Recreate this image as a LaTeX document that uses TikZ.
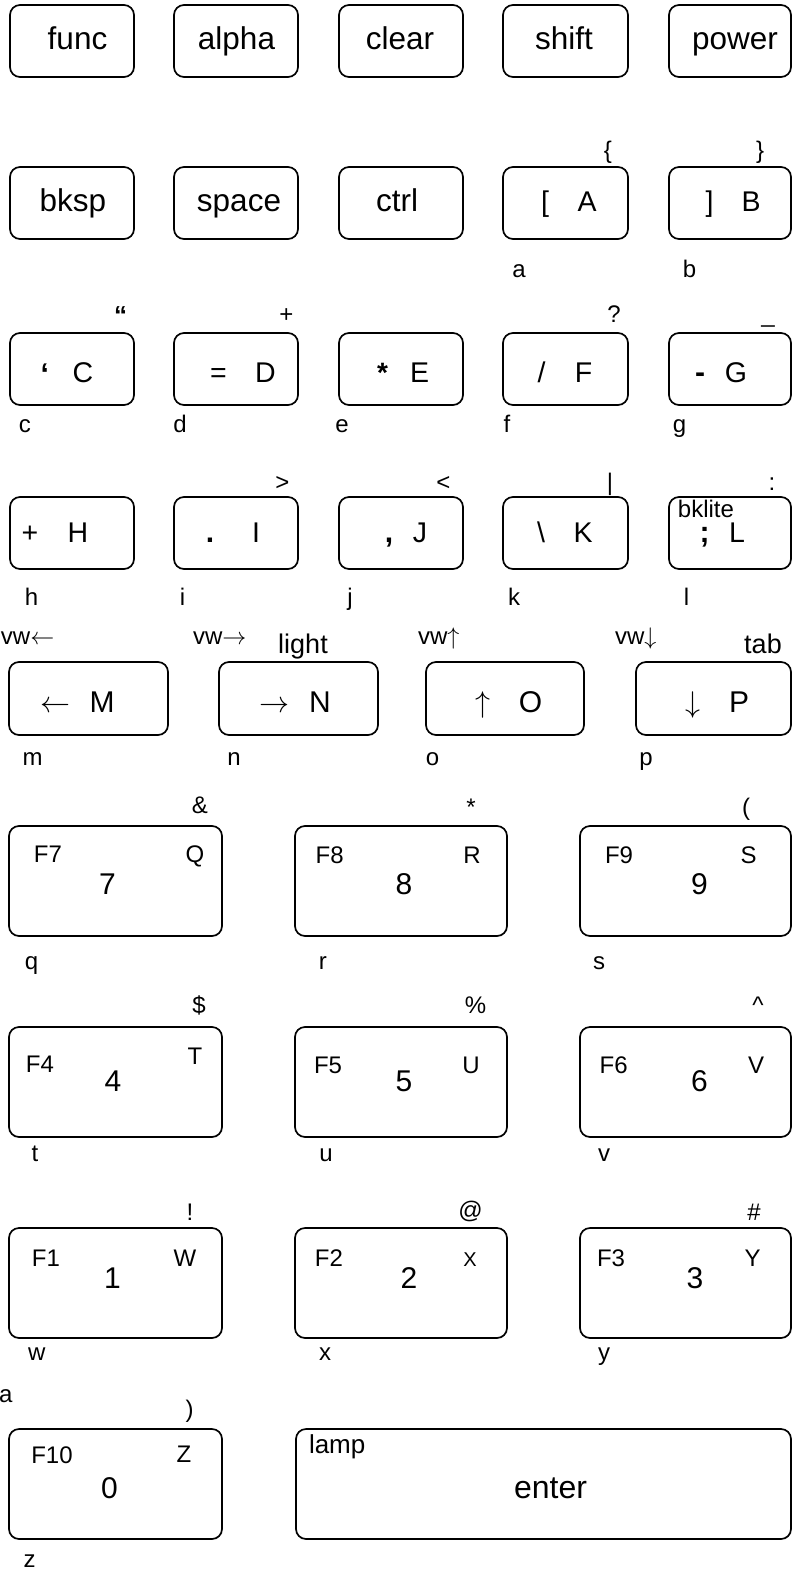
\documentclass[tikz,border=0pt]{standalone}
\usepackage{fix-cm}
\usepackage{fontspec}
\setmainfont{Liberation Sans}
\begin{document}
\begin{tikzpicture}[x=1pt,y=-1pt]
\tikzset{
  keybox/.style n args={2}{draw, rounded corners=10pt, line width=1.7pt, inner sep=0pt, minimum width=#1pt, minimum height=#2pt},
  txt/.style={anchor=base, inner sep=0pt, outer sep=0pt},
  txbig/.style={txt, font=\fontsize{31.5}{34}\selectfont},
  txlet/.style={txt, font=\fontsize{28.5}{30}\selectfont},
  txpun/.style={txt, font=\fontsize{30}{32}\selectfont\bfseries},
  txarr/.style={txt, font=\fontsize{30}{32}\selectfont},
  txdig/.style={txt, font=\fontsize{30}{32}\selectfont},
  txsm/.style={txt, font=\fontsize{24}{26}\selectfont},
  txf/.style={txt, font=\fontsize{24}{26}\selectfont},
  txlw/.style={txsm, anchor=base west},
}
\useasboundingbox (0,0) rectangle (792,1571);

% ---------- Row 1
\node[keybox={124}{72}] (kfunc)  at (72,41) {};
\node[keybox={124}{72}] (kalpha) at (236,41) {};
\node[keybox={124}{72}] (kclear) at (401,41) {};
\node[keybox={125}{72}] (kshift) at (565.5,41) {};
\node[keybox={122}{72}] (kpower) at (730,41) {};
\node[txbig] (tfunc)  at (77.5,50) {func};
\node[txbig] (talpha) at (236.5,50) {alpha};
\node[txbig] (tclear) at (400,50) {clear};
\node[txbig] (tshift) at (564,50) {shift};
\node[txbig] (tpower) at (735,50) {power};

% ---------- Row 2
\node[keybox={124}{72}] (kbksp)  at (72,203) {};
\node[keybox={124}{72}] (kspace) at (236,203) {};
\node[keybox={124}{72}] (kctrl)  at (401,203) {};
\node[keybox={125}{72}] (ka)     at (565.5,203) {};
\node[keybox={122}{72}] (kb)     at (730,203) {};
\node[txbig] (tbksp)  at (73,211) {bksp};
\node[txbig] (tspace) at (239,211) {space};
\node[txbig] (tctrl)  at (397,211) {ctrl};
\node[txlet] (ta1) at (545,211) {[};
\node[txlet] (ta2) at (587,211) {A};
\node[txlet] (tb1) at (709.5,211) {]};
\node[txlet] (tb2) at (751,211) {B};
\node[txsm] (sa) at (608,158) {\{};
\node[txsm] (sb) at (760,158) {\}};
\node[txsm] (la) at (519,277) {a};
\node[txsm] (lb) at (689.5,277) {b};

% ---------- Row 3
\node[keybox={124}{72}] (kc) at (72,369) {};
\node[keybox={124}{72}] (kd) at (236,369) {};
\node[keybox={124}{72}] (ke) at (401,369) {};
\node[keybox={125}{72}] (kf) at (565.5,369) {};
\node[keybox={122}{72}] (kg) at (730,369) {};
\node[txpun] (tc1) at (44.7,384) {‘};
\node[txlet] (tc2) at (83,382) {C};
\node[txlet] (td1) at (218.5,382) {=};
\node[txlet] (td2) at (265.5,382) {D};
\node[txpun, font=\fontsize{28}{30}\selectfont\bfseries] (te1) at (382.5,382) {*};
\node[txlet] (te2) at (419.5,382) {E};
\node[txlet] (tf1) at (541.5,382) {/};
\node[txlet] (tf2) at (583.5,382) {F};
\node[txpun] (tg1) at (700,382) {-};
\node[txlet] (tg2) at (736,382) {G};
\node[txsm, font=\fontsize{26}{28}\selectfont\bfseries] (sc) at (120.5,324) {“};
\node[txsm] (sd) at (286.5,322) {+};
\node[txsm] (sf) at (614,322) {?};
\node[txsm] (sg) at (768,322) {\textunderscore};
\node[txsm] (lc) at (25,432) {c};
\node[txsm] (ld) at (180,432) {d};
\node[txsm] (le) at (342,432) {e};
\node[txsm] (lf) at (507,432) {f};
\node[txsm] (lg) at (679.5,432) {g};

% ---------- Row 4
\node[keybox={124}{72}] (kh) at (72,533) {};
\node[keybox={124}{72}] (ki) at (236,533) {};
\node[keybox={124}{72}] (kj) at (401,533) {};
\node[keybox={125}{72}] (kk) at (565.5,533) {};
\node[keybox={122}{72}] (kl) at (730,533) {};
\node[txlet] (th1) at (30,542) {+};
\node[txlet] (th2) at (78,542) {H};
\node[txpun] (ti1) at (210,542) {.};
\node[txlet] (ti2) at (256,542) {I};
\node[txpun] (tj1) at (389,542) {,};
\node[txlet] (tj2) at (420,542) {J};
\node[txlet] (tk1) at (541,542) {\textbackslash};
\node[txlet] (tk2) at (583,542) {K};
\node[txpun] (tl1) at (704.5,542) {;};
\node[txlet] (tl2) at (737,542) {L};
\node[txsm] (tbk) at (706,517) {bklite};
\node[txsm] (si) at (282.5,490) {>};
\node[txsm] (sj) at (443.5,490) {<};
\node[txsm] (sk) at (610,490) {\textbar};
\node[txsm] (sl) at (772,490) {:};
\node[txsm] (lh) at (31.5,605) {h};
\node[txsm] (li) at (182.5,605) {i};
\node[txsm] (lj) at (350,605) {j};
\node[txsm] (lk) at (514,605) {k};
\node[txsm] (ll) at (686.5,605) {l};

% ---------- Row 5
\node[keybox={159}{73}] (km) at (88.5,698.5) {};
\node[keybox={159}{73}] (kn) at (298.5,698.5) {};
\node[keybox={158}{73}] (ko) at (505,698.5) {};
\node[keybox={155}{73}] (kp) at (713.5,698.5) {};
\node[txarr] (tm1) at (55,712) {$\leftarrow$};
\node[txarr] (tm2) at (102,712) {M};
\node[txarr] (tn1) at (274,712) {$\rightarrow$};
\node[txarr] (tn2) at (320,712) {N};
\node[txarr] (to1) at (483,712) {$\uparrow$};
\node[txarr] (to2) at (530.5,712) {O};
\node[txarr] (tp1) at (693,712) {$\downarrow$};
\node[txarr] (tp2) at (739,712) {P};
\node[txlw] (vm) at (1,644) {vw$\leftarrow$};
\node[txlw] (vn) at (193,644) {vw$\rightarrow$};
\node[txlw] (vo) at (418,644) {vw$\uparrow$};
\node[txlw] (vp) at (615,644) {vw$\downarrow$};
\node[txsm, font=\fontsize{27}{29}\selectfont] (slight) at (303,653) {light};
\node[txsm, font=\fontsize{27}{29}\selectfont] (stab) at (763,653) {tab};
\node[txsm] (lm) at (32.5,765) {m};
\node[txsm] (ln) at (234,765) {n};
\node[txsm] (lo) at (432.5,765) {o};
\node[txsm] (lp) at (646,765) {p};

% ---------- Row 6
\node[keybox={213}{110}] (kq) at (115.5,881) {};
\node[keybox={212}{110}] (kr) at (401,881) {};
\node[keybox={211}{110}] (ks) at (685.5,881) {};
\node[txf] (fq) at (48,862) {F7};
\node[txdig] (dq) at (107.5,894) {7};
\node[txf] (cq) at (195,862) {Q};
\node[txsm] (sq) at (200,813) {\&};
\node[txsm] (lq) at (31.5,969) {q};
\node[txf] (fr) at (329.6,863) {F8};
\node[txdig] (dr) at (404,894) {8};
\node[txf] (cr) at (472,863) {R};
\node[txsm] (sr) at (471,815) {*};
\node[txsm] (lr) at (322.8,969) {r};
\node[txf] (fs) at (619,863) {F9};
\node[txdig] (ds) at (699.4,894) {9};
\node[txf] (cs) at (748.6,863) {S};
\node[txsm] (ss) at (746,815) {(};
\node[txsm] (ls) at (599,969) {s};

% ---------- Row 7
\node[keybox={213}{110}] (kt) at (115.5,1082) {};
\node[keybox={212}{110}] (ku) at (401,1082) {};
\node[keybox={211}{110}] (kv) at (685.5,1082) {};
\node[txf] (ft) at (40,1072) {F4};
\node[txdig] (dt) at (113,1091) {4};
\node[txf] (ct) at (195,1064) {T};
\node[txsm] (st) at (199,1013) {\$};
\node[txsm] (lt) at (35,1161) {t};
\node[txf] (fu) at (328,1073) {F5};
\node[txdig] (du) at (404,1091) {5};
\node[txf] (cu) at (471,1073) {U};
\node[txsm] (su) at (475.5,1013) {\%};
\node[txsm] (lu) at (326,1161) {u};
\node[txf] (fv) at (613.6,1073) {F6};
\node[txdig] (dv) at (699.4,1091) {6};
\node[txf] (cv) at (756,1073) {V};
\node[txsm] (sv) at (758,1013) {\textasciicircum};
\node[txsm] (lv) at (604,1161) {v};

% ---------- Row 8
\node[keybox={213}{110}] (kw) at (115.5,1283) {};
\node[keybox={212}{110}] (kx) at (401,1283) {};
\node[keybox={211}{110}] (ky) at (685.5,1283) {};
\node[txf] (fw) at (46,1266) {F1};
\node[txdig] (dw) at (112.5,1288) {1};
\node[txf] (cw) at (185,1266) {W};
\node[txsm] (sw) at (190,1220) {!};
\node[txsm] (lw) at (36.7,1360) {w};
\node[txf] (fx) at (329,1266) {F2};
\node[txdig] (dx) at (409,1288) {2};
\node[txf, font=\fontsize{20}{22}\selectfont] (cx) at (470,1266) {X};
\node[txsm] (sx) at (470.5,1218) {@};
\node[txsm] (lx) at (325,1360) {x};
\node[txf] (fy) at (611,1266) {F3};
\node[txdig] (dy) at (695,1288) {3};
\node[txf] (cy) at (752.5,1266) {Y};
\node[txsm] (sy) at (754,1220) {\#};
\node[txsm] (ly) at (604,1360) {y};

% ---------- Row 9
\node[keybox={213}{110}] (kz) at (115.5,1484) {};
\node[keybox={495}{110}] (kenter) at (543.5,1484) {};
\node[txf] (fz) at (52,1463) {F10};
\node[txdig] (dz) at (109.5,1498) {0};
\node[txf] (cz) at (184,1462) {Z};
\node[txsm] (sz) at (189.5,1417) {)};
\node[txsm] (lz) at (29.7,1567) {z};
\node[txlw] (lalone) at (-1,1402) {a};
\node[txlw, font=\fontsize{26}{28}\selectfont] (tlamp) at (309,1453) {lamp};
\node[txbig, font=\fontsize{32}{34}\selectfont] (tenter) at (550.5,1498) {enter};
\end{tikzpicture}
\end{document}
